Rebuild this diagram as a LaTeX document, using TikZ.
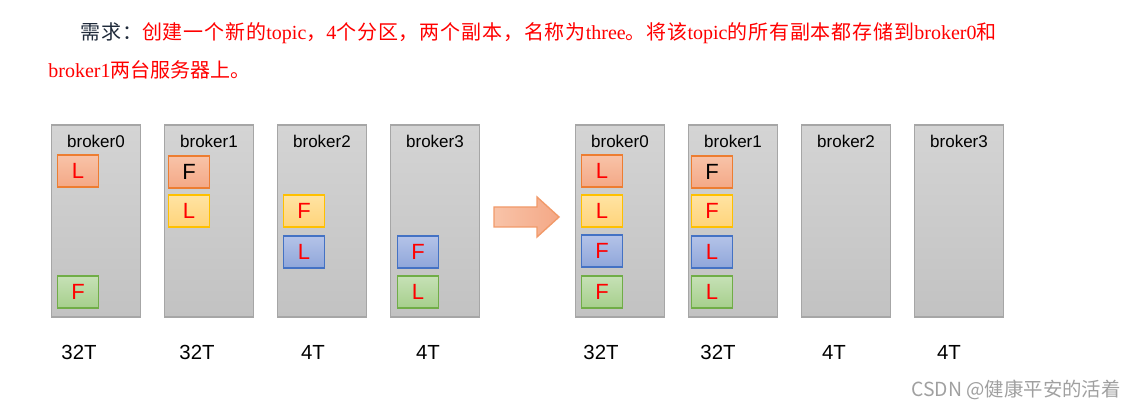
\documentclass[tikz,border=0pt]{standalone}
\usepackage{fontspec}
\setmainfont{Liberation Serif}
\setsansfont{Liberation Sans}
\newfontfamily\cjk{Noto Sans CJK SC}
\newfontfamily\cjkwide[LetterSpace=4.3]{Noto Sans CJK SC}
\usetikzlibrary{positioning, calc}
\definecolor{reqRed}      {HTML}{FF0000}
\definecolor{reqDark}     {HTML}{1F2A3A}
\definecolor{brkLine}     {HTML}{A6A6A6}
\definecolor{brkTop}      {HTML}{D4D4D4}
\definecolor{brkBot}      {HTML}{C2C2C2}
\definecolor{cOrangeLine} {HTML}{ED7D31}
\definecolor{cOrangeTop}  {HTML}{F8C3A8}
\definecolor{cOrangeBot}  {HTML}{F4A886}
\definecolor{cYellowLine} {HTML}{FFC000}
\definecolor{cYellowTop}  {HTML}{FFE3A3}
\definecolor{cYellowBot}  {HTML}{FFD47A}
\definecolor{cBlueLine}   {HTML}{4472C4}
\definecolor{cBlueTop}    {HTML}{B4C3E8}
\definecolor{cBlueBot}    {HTML}{8FA6DA}
\definecolor{cGreenLine}  {HTML}{70AD47}
\definecolor{cGreenTop}   {HTML}{C6E1B6}
\definecolor{cGreenBot}   {HTML}{A6CF8C}
\definecolor{arrLine}     {HTML}{F19A6A}
\definecolor{markGray}    {HTML}{A0A0A0}
\newcommand{\zh}[1]{{\cjkwide #1}}

\tikzset{
  broker/.style={draw=brkLine, line width=0.7pt, top color=brkTop, bottom color=brkBot,
                 minimum width=44.5pt, minimum height=96pt, inner sep=0},
  brkname/.style={font=\sffamily\fontsize{8.5}{10}\selectfont, inner sep=0},
  replica/.style={line width=0.7pt, minimum width=20.5pt, minimum height=16pt, inner sep=0,
                  font=\sffamily\fontsize{11}{13}\selectfont, text=reqRed},
  rOrange/.style={replica, draw=cOrangeLine, top color=cOrangeTop, bottom color=cOrangeBot},
  rYellow/.style={replica, draw=cYellowLine, top color=cYellowTop, bottom color=cYellowBot},
  rBlue/.style={replica, draw=cBlueLine, top color=cBlueTop, bottom color=cBlueBot},
  rGreen/.style={replica, draw=cGreenLine, top color=cGreenTop, bottom color=cGreenBot},
  disk/.style={font=\sffamily\fontsize{10.2}{12}\selectfont, inner sep=0},
  req/.style={font=\fontsize{10}{12}\selectfont, text=reqRed, inner sep=0, anchor=west},
}

\begin{document}
\begin{tikzpicture}[x=0.5pt, y=-0.5pt]
  \useasboundingbox (0,0) rectangle (1136,410);

  % requirement text
  \node[req] (req1) at (80,33)
    {\textcolor{reqDark}{\zh{需求：}}\zh{创建一个新的}topic\zh{，}4\zh{个分区，两个副本，名称为}three\zh{。将该}topic\zh{的所有副本都存储到}broker0\zh{和}};
  \node[req] (req2) at (48,70) {broker1{\cjk 两台服务器上。}};

  % brokers before / after
  \foreach \i in {0,...,3} {
    \node[broker] (old\i) at ({96+113*\i},221) {};
    \node[brkname] (old\i-name) at ([yshift=-8.5pt]old\i.north) {broker\i};
    \node[broker] (new\i) at ({620+113*\i},221) {};
    \node[brkname] (new\i-name) at ([yshift=-8.5pt]new\i.north) {broker\i};
  }

  % replicas before
  \node[rOrange] (o0a) at (78,171) {L};
  \node[rGreen]  (o0d) at (78,292) {F};
  \node[rOrange, text=black] (o1a) at (189,172) {F};
  \node[rYellow] (o1b) at (189,211) {L};
  \node[rYellow] (o2b) at (304,211) {F};
  \node[rBlue]   (o2c) at (304,252) {L};
  \node[rBlue]   (o3c) at (418,252) {F};
  \node[rGreen]  (o3d) at (418,292) {L};

  % replicas after
  \node[rOrange] (n0a) at (602,171) {L};
  \node[rYellow] (n0b) at (602,211) {L};
  \node[rBlue]   (n0c) at (602,251) {F};
  \node[rGreen]  (n0d) at (602,292) {F};
  \node[rOrange, text=black] (n1a) at (712,172) {F};
  \node[rYellow] (n1b) at (712,211) {F};
  \node[rBlue]   (n1c) at (712,252) {L};
  \node[rGreen]  (n1d) at (712,292) {L};

  % big arrow
  \draw[draw=arrLine, line width=0.7pt, left color=cOrangeTop, right color=cOrangeBot]
    (494,207) -- (537,207) -- (537,197) -- (559,217) -- (537,237) -- (537,227) -- (494,227) -- cycle;

  % disk sizes
  \foreach \n/\x/\t in {a/79/32T, b/197/32T, c/313/4T, d/428/4T,
                         e/601/32T, f/718/32T, g/834/4T, h/949/4T}
    \node[disk] (dsk\n) at (\x,352) {\t};

  \node[font=\cjk\fontsize{9.7}{11}\selectfont, text=markGray, anchor=east, inner sep=0]
    (mark) at (1121,390) {CSDN @健康平安的活着};
\end{tikzpicture}
\end{document}
